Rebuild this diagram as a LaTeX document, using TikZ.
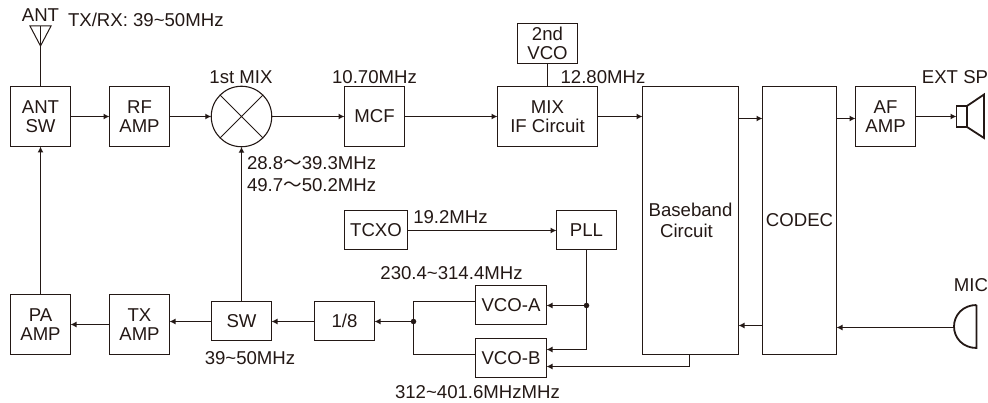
\documentclass[tikz,border=0pt]{standalone}
\usepackage{fontspec}
\setmainfont{Liberation Sans}
\newfontfamily\cjkfont{Noto Sans CJK JP}
\usetikzlibrary{arrows.meta,calc}
\definecolor{ink}{HTML}{231815}
\newcommand{\wavedash}{{\cjkfont\symbol{"301C}}}
\newcommand{\tld}{\char"007E\relax}
\tikzset{
  every node/.style={text=ink,font=\fontsize{18.6}{19.5}\selectfont,inner sep=0pt,outer sep=0pt},
  blk/.style={draw=ink,line width=1.1pt,align=center,minimum width=60pt,minimum height=60pt},
  lowblk/.style={draw=ink,line width=1.1pt,align=center,minimum width=60pt,minimum height=39pt},
  lbl/.style={align=center},
  wire/.style={draw=ink,line width=1.2pt},
  arr/.style={wire,-{Latex[length=6pt,width=6pt]}},
  dotn/.style={circle,fill=ink,minimum size=5.5pt},
  sym/.style={draw=ink,line width=1.8pt,line join=miter}
}
\begin{document}
\begin{tikzpicture}[x=1pt,y=-1pt]
\useasboundingbox (0,0) rectangle (988,403);
% blocks
\node[blk] (antsw) at (40.5,116.5) {ANT\\SW};
\node[blk] (rf) at (139.5,116.5) {RF\\AMP};
\node[circle,draw=ink,line width=1.1pt,minimum size=60.5pt] (mix1) at (241.5,116.5) {};
\node[blk] (mcf) at (374.5,116.5) {MCF};
\node[blk,minimum width=100pt] (mixif) at (547.5,116.5) {MIX\\IF Circuit};
\node[lowblk,minimum height=40pt] (vco2) at (547.5,43.5) {2nd\\VCO};
\node[blk,minimum width=96pt,minimum height=268pt] (bb) at (690.5,220.5) {Baseband\\[1pt]\hspace*{-8pt}Circuit};
\node[blk,minimum width=74pt,minimum height=268pt] (codec) at (799.5,220.5) {CODEC};
\node[blk] (af) at (885.5,116.5) {AF\\AMP};
\node[blk] (pa) at (40.5,324.5) {PA\\AMP};
\node[blk] (tx) at (139.5,324.5) {TX\\AMP};
\node[lowblk] (sw) at (241.5,321) {SW};
\node[lowblk] (div) at (344.5,321) {1/8};
\node[lowblk,minimum width=71pt] (vcoa) at (511,305) {VCO-A};
\node[lowblk,minimum width=71pt] (vcob) at (511,358) {VCO-B};
\node[lowblk,minimum width=63pt] (tcxo) at (376,230) {TCXO};
\node[lowblk] (pll) at (586.5,230) {PLL};
% lanes of the connectors that run off the centre of a block
\coordinate (lanelow) at (0,321.5);
\coordinate (lanepll) at (0,230.5);
% mixer cross
\draw[wire,line width=1pt] (mix1.45) -- (mix1.225) (mix1.135) -- (mix1.315);
% antenna
\coordinate (anttip) at (antsw.north |- 0,46);
\coordinate (antl) at ($(anttip)+(-10.5,-20)$);
\coordinate (antr) at ($(anttip)+(10.5,-20)$);
\coordinate (antm) at ($(anttip)+(0,-20)$);
\draw[wire] (antsw.north) -- (anttip) -- (antm);
\draw[draw=ink,line width=1pt,line join=miter] (antl) -- (antr) -- (anttip) -- cycle;
% speaker
\coordinate (spk) at (956.5,116.5);
\draw[sym] (956.5,106) rectangle (967,127);
\draw[sym] (967,106) -- (984,94.5) -- (984,138) -- (967,127);
% microphone
\coordinate (micin) at (954,327.5);
\draw[sym] (976.5,305) -- (976.5,348) .. controls (963,348) and (954,338) .. (954,326.5) .. controls (954,315) and (963,305) .. (976.5,305);
% connectors
\draw[arr] (antsw.east) -- (rf.west);
\draw[arr] (rf.east) -- (mix1.west);
\draw[arr] (mix1.east) -- (mcf.west);
\draw[arr] (mcf.east) -- (mixif.west);
\draw[wire] (vco2.south) -- (mixif.north);
\draw[arr] (mixif.east) -- (bb.west |- mixif.east);
\draw[arr] ($(bb.east)+(0,-102)$) coordinate (bbout) -- (codec.west |- bbout);
\draw[arr] ($(codec.east)+(0,-102)$) coordinate (cout) -- (af.west |- cout);
\draw[arr] (af.east) -- (spk);
\draw[arr] (micin) -- (codec.east |- micin);
\draw[arr] ($(codec.west)+(0,105)$) coordinate (cback) -- (bb.east |- cback);
\draw[arr] (pa.north) -- (antsw.south);
\draw[arr] (sw.north -| mix1.south) -- (mix1.south);
\draw[arr] (sw.west |- lanelow) -- (tx.east |- lanelow);
\draw[arr] (tx.west) -- (pa.east);
\draw[arr] (div.west |- lanelow) -- (sw.east |- lanelow);
\draw[arr] (tcxo.east |- lanepll) -- (pll.west |- lanepll);
\node[dotn] (jpll) at (586.5,305.5) {};
\node[dotn] (jvco) at (413.5,321.5) {};
\draw[wire] (pll.south) -- (jpll);
\draw[arr] (jpll) -- (vcoa.east |- jpll);
\draw[arr] (jpll.center) |- (vcob.east |- 0,349.5);
\draw[wire] (vcoa.west |- 0,301.5) -| (jvco.center);
\draw[wire] (vcob.west |- 0,354.5) -| (jvco.center);
\draw[arr] (jvco) -- (div.east |- lanelow);
\draw[arr] (bb.south -| 689.5,0) |- (vcob.east |- 0,366.5);
% labels
\node[lbl] (lant) at (40.5,15) {ANT};
\node[lbl,anchor=west] (ltx) at (68,20) {TX/RX: 39\tld 50MHz};
\node[lbl] (lmix) at (241,77) {1st MIX};
\node[lbl] (l107) at (374.5,77) {10.70MHz};
\node[lbl] (l128) at (603,77) {12.80MHz};
\node[lbl,anchor=west] (lf1) at (247,163.5) {28.8\wavedash 39.3MHz};
\node[lbl,anchor=west] (lf2) at (247,185.5) {49.7\wavedash 50.2MHz};
\node[lbl] (l192) at (450.5,217) {19.2MHz};
\node[lbl] (l230) at (451.5,273) {230.4\tld 314.4MHz};
\node[lbl] (l312) at (477.5,392) {312\tld 401.6MHzMHz};
\node[lbl] (l39) at (250,358.5) {39\tld 50MHz};
\node[lbl] (lext) at (955,77) {EXT SP};
\node[lbl] (lmic) at (971,285.5) {MIC};
\end{tikzpicture}
\end{document}
